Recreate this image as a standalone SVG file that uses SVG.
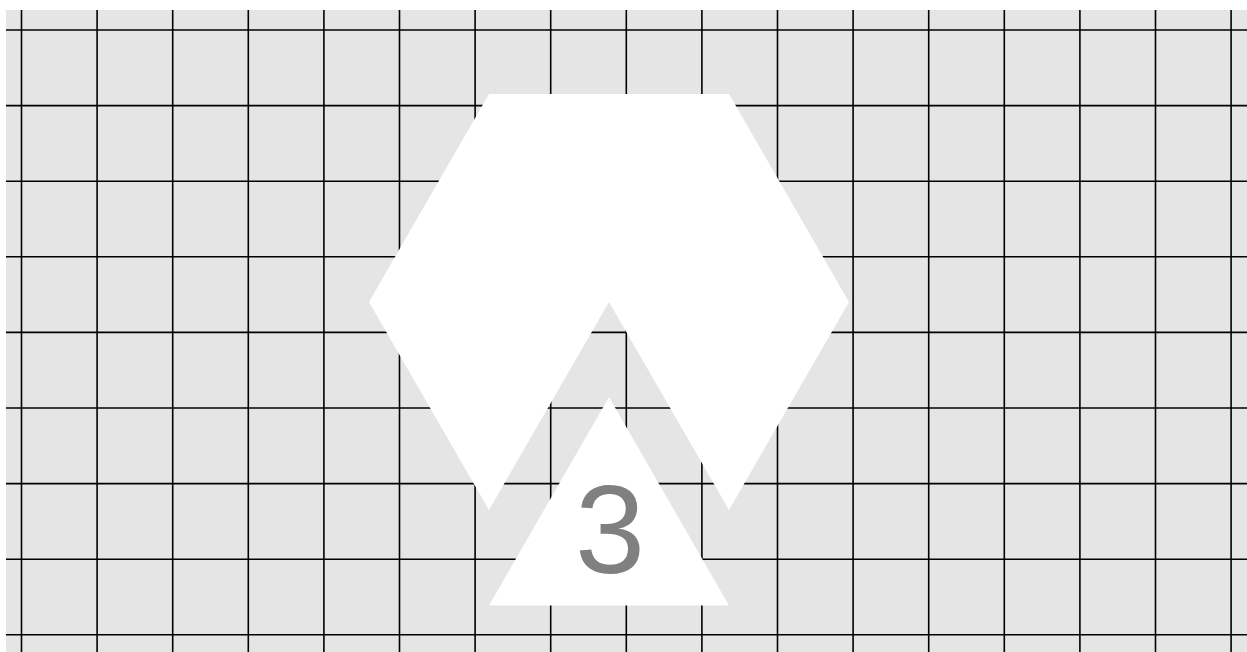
<svg xmlns="http://www.w3.org/2000/svg" width="1247" height="652" viewBox="0 0 1247 652">
<style>
.g line{stroke:#000;stroke-width:1.6}
.shape{fill:#ffffff}
.lbl{font-family:"Liberation Sans",Arial,sans-serif;font-size:126px;fill:#808080;text-anchor:middle}
</style>
<rect x="6" y="10" width="1241" height="642" fill="#e5e5e5"/>
<g class="g" id="grid">
<line x1="21.5" y1="10" x2="21.5" y2="652"/>
<line x1="97.1" y1="10" x2="97.1" y2="652"/>
<line x1="172.7" y1="10" x2="172.7" y2="652"/>
<line x1="248.3" y1="10" x2="248.3" y2="652"/>
<line x1="323.9" y1="10" x2="323.9" y2="652"/>
<line x1="399.5" y1="10" x2="399.5" y2="652"/>
<line x1="475.1" y1="10" x2="475.1" y2="652"/>
<line x1="550.7" y1="10" x2="550.7" y2="652"/>
<line x1="626.3" y1="10" x2="626.3" y2="652"/>
<line x1="701.9" y1="10" x2="701.9" y2="652"/>
<line x1="777.5" y1="10" x2="777.5" y2="652"/>
<line x1="853.1" y1="10" x2="853.1" y2="652"/>
<line x1="928.7" y1="10" x2="928.7" y2="652"/>
<line x1="1004.3" y1="10" x2="1004.3" y2="652"/>
<line x1="1079.9" y1="10" x2="1079.9" y2="652"/>
<line x1="1155.5" y1="10" x2="1155.5" y2="652"/>
<line x1="1231.1" y1="10" x2="1231.1" y2="652"/>
<line x1="6" y1="30" x2="1247" y2="30"/>
<line x1="6" y1="105.6" x2="1247" y2="105.6"/>
<line x1="6" y1="181.2" x2="1247" y2="181.2"/>
<line x1="6" y1="256.8" x2="1247" y2="256.8"/>
<line x1="6" y1="332.4" x2="1247" y2="332.4"/>
<line x1="6" y1="408" x2="1247" y2="408"/>
<line x1="6" y1="483.6" x2="1247" y2="483.6"/>
<line x1="6" y1="559.2" x2="1247" y2="559.2"/>
<line x1="6" y1="634.8" x2="1247" y2="634.8"/>
</g>
<g id="chevron">
<polygon class="shape" points="489,94 729,94 849,302 729,510 609,302 489,510 369,302"/>
</g>
<g id="triangle">
<polygon class="shape" points="609,397 729,605.5 489,605.5"/>
<text class="lbl" x="610" y="573">3</text>
</g>
</svg>
